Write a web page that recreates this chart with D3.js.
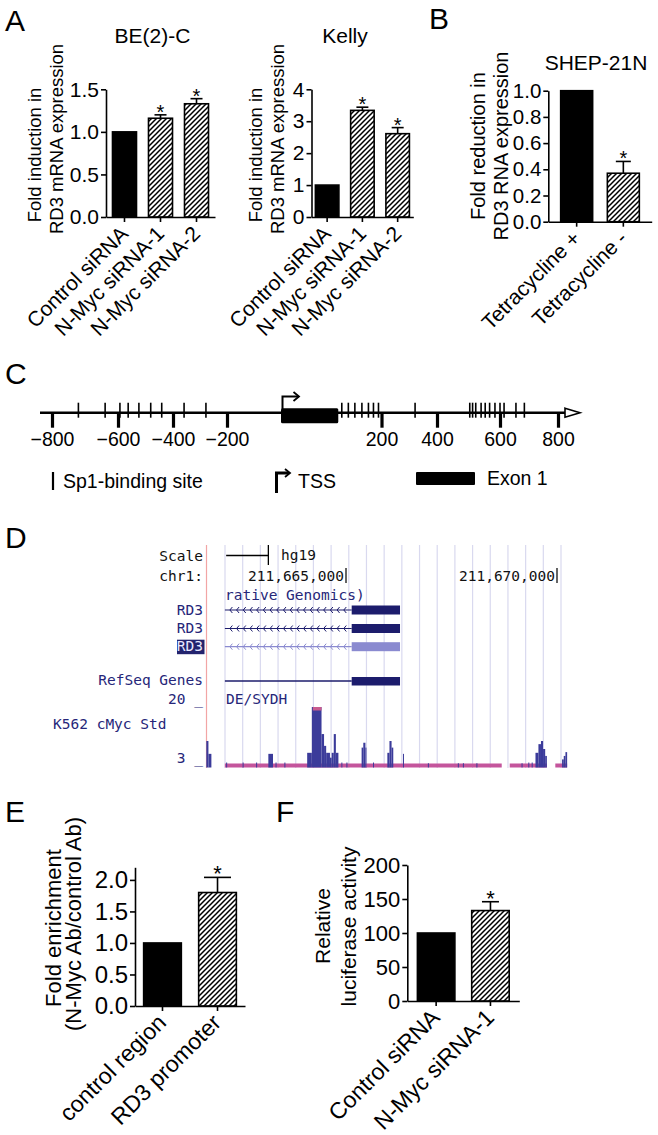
<!DOCTYPE html>
<html><head><meta charset="utf-8">
<script src="https://cdn.jsdelivr.net/npm/d3@7"></script>
<style>
body{margin:0;background:#fff;}
svg{display:block;font-family:"Liberation Sans",Arial,Helvetica,sans-serif;}
</style></head><body>
<script>
// ================= DATA =================
// Panel A – BE(2)-C
const beCategories = ["Control siRNA","N-Myc siRNA-1","N-Myc siRNA-2"];
const beValues = [1.0, 1.16, 1.33];
const beErrors = [0, 0.04, 0.06];
const beSignificant = [false, true, true];
const beTicks = [0, 0.5, 1.0, 1.5];
// Panel A – Kelly
const kellyCategories = ["Control siRNA","N-Myc siRNA-1","N-Myc siRNA-2"];
const kellyValues = [1.0, 3.34, 2.61];
const kellyErrors = [0, 0.10, 0.19];
const kellySignificant = [false, true, true];
const kellyTicks = [0, 1, 2, 3, 4];
// Panel B – SHEP-21N
const shepCategories = ["Tetracycline +","Tetracycline -"];
const shepValues = [1.0, 0.37];
const shepErrors = [0, 0.09];
const shepSignificant = [false, true];
const shepTicks = [0, 0.2, 0.4, 0.6, 0.8, 1.0];
// Panel C – promoter map (bp relative to TSS; schematic, not to scale)
const promoterTicks = [-800, -600, -400, -200, 200, 400, 600, 800];
const promoterBreaks = [-800, -600, -400, -200, 0, 200, 400, 600, 800];
const sp1Sites = [-720, -639, -593, -563, -524, -481, -441, -359, -278,
                  121, 134, 147, 161, 174, 184, 194, 321,
                  504, 513, 523, 540, 553, 567, 584, 600, 614, 655, 684];
const exon1 = [0, 114];
const tssPosition = 0;
// Panel D – UCSC browser (kb relative to chr1:211,660,000)
const coordinateLabels = [[5, "211,665,000"], [10, "211,670,000"]];
const transcripts = ["RD3", "RD3", "RD3"];
const transcriptSpan = [2.13, 6.28];
const codingExon = [5.135, 6.28];
const cMycSignal = [
  [1.69,1.74,10.2],[1.74,1.81,6.5],
  [2.16,2.18,4.0],[2.55,2.57,4.0],[2.87,2.89,4.0],
  [3.16,3.27,6.5],[3.33,3.35,4.0],[3.54,3.56,4.0],
  [4.08,4.19,6.8],[4.19,4.42,22],[4.42,4.48,12.2],[4.48,4.53,8.8],[4.53,4.62,6.8],
  [4.62,4.66,5.4],[4.66,4.71,6.8],[4.71,4.76,12.2],[4.76,4.82,6.8],
  [4.89,4.91,4.0],[5.01,5.03,4.0],
  [5.37,5.41,8.3],[5.41,5.46,9.7],[5.46,5.47,8.3],
  [5.64,5.66,4.0],
  [5.98,6.03,6.8],[6.03,6.08,10.2],[6.08,6.12,8.3],
  [6.35,6.37,6.5],
  [6.94,6.96,3.8],[7.65,7.67,3.8],[7.77,7.79,3.8],[8.09,8.11,3.8],
  [9.16,9.18,3.8],[9.32,9.34,4.0],[9.40,9.42,4.0],
  [9.49,9.56,6.8],[9.56,9.62,9.3],[9.62,9.67,10.2],[9.67,9.72,7.9],[9.72,9.76,5.9],
  [10.12,10.16,4.9],[10.16,10.20,5.9],[10.20,10.24,7.0]
];
const signalCoverage = [[2.13,8.69],[8.88,9.76],[9.96,10.24]];
const signalRange = [3, 20];
// Panel E – ChIP
const chipCategories = ["control region","RD3 promoter"];
const chipValues = [1.0, 1.80];
const chipErrors = [0, 0.24];
const chipSignificant = [false, true];
const chipTicks = [0, 0.5, 1.0, 1.5, 2.0];
// Panel F – luciferase
const lucCategories = ["Control siRNA","N-Myc siRNA-1"];
const lucValues = [100, 133];
const lucErrors = [0, 13];
const lucSignificant = [false, true];
const lucTicks = [0, 50, 100, 150, 200];

// ================= DRAWING =================
const FONT = '"Liberation Sans",Arial,sans-serif';
const MONO = '"DejaVu Sans Mono","Liberation Mono",monospace';
const svg = d3.select("body").append("svg").attr("width",658).attr("height",1135);
svg.append("rect").attr("width",658).attr("height",1135).attr("fill","#fff");
const defs = svg.append("defs");
const pat = defs.append("pattern").attr("id","hatch").attr("patternUnits","userSpaceOnUse")
  .attr("width",5).attr("height",5);
pat.append("rect").attr("width",5).attr("height",5).attr("fill","#fff");
pat.append("path").attr("d","M-1,6 L6,-1 M-1,1 L1,-1 M4,6 L6,4").attr("stroke","#000").attr("stroke-width",1.5);

function letter(t,x,y,size){
  svg.append("text").attr("x",x).attr("y",y).attr("font-size",size).attr("fill","#000").text(t);
}

function barPanel(o){
  const g = svg.append("g");
  const x = d3.scaleBand().domain(o.cats).range([o.x0,o.x1]).paddingInner(o.pi).paddingOuter(o.po);
  const y = d3.scaleLinear().domain(o.domain).range([o.y0,o.y1]);
  const rows = o.cats.map((c,i)=>({c, v:o.vals[i], e:o.errs[i], s:o.sig[i], solid:i===0}));
  const cx = d => x(d.c) + x.bandwidth()/2;
  g.selectAll(".bar").data(rows).join("rect")
    .attr("x",d=>x(d.c)).attr("y",d=>y(d.v)).attr("width",x.bandwidth()).attr("height",d=>y(0)-y(d.v))
    .attr("fill",d=>d.solid?"#000":"url(#hatch)").attr("stroke","#000").attr("stroke-width",1.6);
  const eb = rows.filter(d=>d.e>0);
  g.selectAll(".ev").data(eb).join("line")
    .attr("x1",cx).attr("x2",cx).attr("y1",d=>y(d.v)).attr("y2",d=>y(d.v+d.e))
    .attr("stroke","#000").attr("stroke-width",1.6);
  g.selectAll(".ec").data(eb).join("line")
    .attr("x1",d=>cx(d)-o.cap/2).attr("x2",d=>cx(d)+o.cap/2).attr("y1",d=>y(d.v+d.e)).attr("y2",d=>y(d.v+d.e))
    .attr("stroke","#000").attr("stroke-width",1.6);
  g.selectAll(".star").data(rows.filter(d=>d.s)).join("text")
    .attr("x",cx).attr("y",d=>y(d.v+d.e)+o.starDy).attr("text-anchor","middle")
    .attr("font-size",o.starSize).text("*");
  const ya = g.append("g").attr("transform",`translate(${o.x0},0)`)
    .call(d3.axisLeft(y).tickValues(o.ticks).tickFormat(d3.format(o.fmt)).tickSize(5).tickSizeOuter(0).tickPadding(2));
  ya.attr("font-family",FONT).attr("font-size",o.tickSize);
  ya.selectAll("path,line").attr("stroke","#000").attr("stroke-width",1.6);
  ya.selectAll("text").attr("fill","#000");
  const xa = g.append("g").attr("transform",`translate(0,${o.y0})`)
    .call(d3.axisBottom(x).tickSize(5).tickSizeOuter(0));
  xa.attr("font-family",FONT).attr("font-size",o.labSize);
  xa.selectAll("path,line").attr("stroke","#000").attr("stroke-width",1.6);
  xa.selectAll("text").attr("fill","#000").attr("y",0).attr("dy",null).attr("text-anchor","end")
    .attr("transform",`translate(${o.lx},${o.ly}) rotate(-45)`);
  o.yTitle.forEach(t=>{
    g.append("text").attr("transform",`translate(${t[1]},${t[2]}) rotate(-90)`)
      .attr("text-anchor","middle").attr("font-size",o.yTitleSize).attr("fill","#000").text(t[0]);
  });
  if(o.title) g.append("text").attr("x",o.title[1]).attr("y",o.title[2]).attr("text-anchor","middle")
      .attr("font-size",o.titleSize).attr("fill","#000").text(o.title[0]);
}

// ---- Panel A ----
letter("A",5,31,30);
barPanel({cats:beCategories, vals:beValues, errs:beErrors, sig:beSignificant, ticks:beTicks, fmt:".1f",
  domain:[0,1.5], x0:106, x1:215, y0:217, y1:89.3, pi:0.333, po:0.18, cap:12,
  starDy:4, starSize:20, tickSize:21, labSize:21, lx:5, ly:18,
  yTitle:[["Fold induction in",41,155],["RD3 mRNA expression",63,139]], yTitleSize:18.5,
  title:["BE(2)-C",152.5,43], titleSize:21});
barPanel({cats:kellyCategories, vals:kellyValues, errs:kellyErrors, sig:kellySignificant, ticks:kellyTicks, fmt:"d",
  domain:[0,4], x0:311.5, x1:413.3, y0:217, y1:89.3, pi:0.333, po:0.11, cap:12,
  starDy:4, starSize:20, tickSize:21, labSize:21, lx:5, ly:18,
  yTitle:[["Fold induction in",262,155],["RD3 mRNA expression",284,139]], yTitleSize:18.5,
  title:["Kelly",345,43], titleSize:21});
// ---- Panel B ----
letter("B",429,29,30);
barPanel({cats:shepCategories, vals:shepValues, errs:shepErrors, sig:shepSignificant, ticks:shepTicks, fmt:".1f",
  domain:[0,1], x0:548.3, x1:651.7, y0:221.7, y1:90.7, pi:0.315, po:0.265, cap:15,
  starDy:4, starSize:20, tickSize:20.5, labSize:21, lx:5, ly:18,
  yTitle:[["Fold reduction in",485,146],["RD3 RNA expression",508,146]], yTitleSize:20,
  title:["SHEP-21N",596,70], titleSize:21});

// ---- Panel C ----
letter("C",5,384,30);
const cY = 412.7;
const xC = d3.scaleLinear().domain(promoterBreaks).range([52,118,173,227,281,381.5,437,500,558]);
const gC = svg.append("g");
gC.append("line").attr("x1",40).attr("x2",566).attr("y1",cY).attr("y2",cY).attr("stroke","#000").attr("stroke-width",2.6);
gC.append("path").attr("d",`M565,${cY-4.5} L580,${cY} L565,${cY+4.5} Z`).attr("fill","#fff").attr("stroke","#000").attr("stroke-width",1.6);
const cAxis = gC.append("g").attr("transform",`translate(0,${cY})`)
  .call(d3.axisBottom(xC).tickValues(promoterTicks).tickFormat(d3.format("d")).tickSize(15).tickPadding(4));
cAxis.select(".domain").remove();
cAxis.attr("font-family",FONT).attr("font-size",19.5);
cAxis.selectAll("line").attr("stroke","#000").attr("stroke-width",3.2);
cAxis.selectAll("text").attr("fill","#000");
gC.selectAll(".sp1").data(sp1Sites).join("line")
  .attr("x1",d=>xC(d)).attr("x2",d=>xC(d)).attr("y1",cY-10).attr("y2",cY+5)
  .attr("stroke","#000").attr("stroke-width",1.6);
gC.append("rect").attr("x",xC(exon1[0])).attr("width",xC(exon1[1])-xC(exon1[0]))
  .attr("y",408.3).attr("height",15).attr("rx",1.5).attr("fill","#000");
const tx = xC(tssPosition)+1.5;
gC.append("path").attr("d",`M${tx},409 V396.5 H${tx+16}`).attr("fill","none").attr("stroke","#000").attr("stroke-width",2);
gC.append("path").attr("d",`M${tx+11},392 L${tx+16.5},396.5 L${tx+11},401`).attr("fill","none").attr("stroke","#000").attr("stroke-width",1.8);
// legend
gC.append("line").attr("x1",53).attr("x2",53).attr("y1",472).attr("y2",490).attr("stroke","#000").attr("stroke-width",2.2);
gC.append("text").attr("x",63).attr("y",488).attr("font-size",19.5).text("Sp1-binding site");
gC.append("path").attr("d","M276.5,493 V473 H289").attr("fill","none").attr("stroke","#000").attr("stroke-width",3);
gC.append("path").attr("d","M285,469 L290,473 L285,477").attr("fill","none").attr("stroke","#000").attr("stroke-width",1.8);
gC.append("text").attr("x",298).attr("y",488).attr("font-size",19.5).text("TSS");
gC.append("rect").attr("x",416).attr("y",472).attr("width",59).attr("height",13).attr("rx",1).attr("fill","#000");
gC.append("text").attr("x",487).attr("y",485).attr("font-size",19.5).text("Exon 1");

// ---- Panel D ----
letter("D",5,548,30);
const NAVY = "#262679";
const gD = svg.append("g").attr("font-family",MONO).attr("font-size",14.5);
const xD = d3.scaleLinear().domain([5,10]).range([346,557]);
const gridIdx = d3.range(20);
const gridX = d3.scaleLinear().domain([0,19]).range([225,561]);
gD.selectAll(".grid").data(gridIdx).join("line")
  .attr("x1",d=>gridX(d)).attr("x2",d=>gridX(d)).attr("y1",545).attr("y2",768)
  .attr("stroke","#d9d9ef").attr("stroke-width",1.2);
gD.append("line").attr("x1",206.5).attr("x2",206.5).attr("y1",545).attr("y2",768).attr("stroke","#f2a5a5").attr("stroke-width",1.2);
// scale bar
gD.append("line").attr("x1",xD(2.16)).attr("x2",xD(3.16)).attr("y1",555.5).attr("y2",555.5).attr("stroke","#000").attr("stroke-width",1.3);
gD.append("line").attr("x1",xD(3.16)).attr("x2",xD(3.16)).attr("y1",545).attr("y2",565).attr("stroke","#000").attr("stroke-width",1.3);
gD.append("text").attr("x",203).attr("y",561).attr("text-anchor","end").attr("fill","#111").text("Scale");
gD.append("text").attr("x",281).attr("y",560).attr("fill","#111").text("hg19");
gD.append("text").attr("x",203).attr("y",581).attr("text-anchor","end").attr("fill","#111").text("chr1:");
coordinateLabels.forEach(c=>{
  gD.append("text").attr("x",xD(c[0])-2).attr("y",581).attr("text-anchor","end").attr("fill","#111").text(c[1]);
  gD.append("line").attr("x1",xD(c[0])).attr("x2",xD(c[0])).attr("y1",568).attr("y2",583).attr("stroke","#111").attr("stroke-width",1.3);
});
gD.append("text").attr("x",225).attr("y",600).attr("fill",NAVY).text("rative Genomics)");
// transcripts
const rowY = [610, 628.5, 646.7];
transcripts.forEach((t,i)=>{
  const yy = rowY[i];
  const col = i===2 ? "#8a8ad0" : "#1c1c6c";
  if(i===2){
    gD.append("rect").attr("x",177).attr("y",yy-7).attr("width",27.5).attr("height",14.5).attr("fill","#23236e");
    gD.append("text").attr("x",203).attr("y",yy+4.5).attr("text-anchor","end").attr("fill","#e8e8ff").text(t);
  } else {
    gD.append("text").attr("x",203).attr("y",yy+4.5).attr("text-anchor","end").attr("fill",NAVY).text(t);
  }
  gD.append("line").attr("x1",xD(transcriptSpan[0])).attr("x2",xD(codingExon[0])).attr("y1",yy).attr("y2",yy).attr("stroke",col).attr("stroke-width",1.2);
  const chevrons = d3.range(xD(transcriptSpan[0])+5, xD(codingExon[0])-2, 6.7);
  gD.selectAll(null).data(chevrons).join("path")
    .attr("d",d=>`M${d+2.5},${yy-3} L${d},${yy} L${d+2.5},${yy+3}`).attr("fill","none").attr("stroke",col).attr("stroke-width",1);
  gD.append("rect").attr("x",xD(codingExon[0])).attr("width",xD(codingExon[1])-xD(codingExon[0]))
    .attr("y",yy-4.5).attr("height",9).attr("fill",col);
});
gD.append("text").attr("x",203).attr("y",685).attr("text-anchor","end").attr("fill",NAVY).text("RefSeq Genes");
gD.append("line").attr("x1",xD(transcriptSpan[0])).attr("x2",xD(codingExon[0])).attr("y1",681).attr("y2",681).attr("stroke","#1c1c6c").attr("stroke-width",1.4);
gD.append("rect").attr("x",xD(codingExon[0])).attr("width",xD(codingExon[1])-xD(codingExon[0]))
  .attr("y",677).attr("height",8.5).attr("fill","#1c1c6c");
gD.append("text").attr("x",203).attr("y",704).attr("text-anchor","end").attr("fill",NAVY).text("20 _");
gD.append("text").attr("x",226).attr("y",704).attr("fill",NAVY).text("DE/SYDH");
gD.append("text").attr("x",53).attr("y",729).attr("fill",NAVY).text("K562 cMyc Std");
gD.append("text").attr("x",203).attr("y",763).attr("text-anchor","end").attr("fill",NAVY).text("3 _");
// signal
const yS = d3.scaleLinear().domain(signalRange).range([766,707]).clamp(true);
gD.selectAll(".cov").data(signalCoverage).join("rect")
  .attr("x",d=>xD(d[0])).attr("width",d=>xD(d[1])-xD(d[0])).attr("y",763.5).attr("height",4)
  .attr("fill","#c4559c");
gD.selectAll(".sig").data(cMycSignal).join("rect")
  .attr("x",d=>xD(d[0])).attr("width",d=>Math.max(1,xD(d[1])-xD(d[0])))
  .attr("y",d=>yS(d[2])).attr("height",d=>767.5-yS(d[2])).attr("fill","#3b3b9a");
gD.selectAll(".clip").data(cMycSignal.filter(d=>d[2]>signalRange[1])).join("rect")
  .attr("x",d=>xD(d[0])+1).attr("width",d=>xD(d[1])-xD(d[0])-1)
  .attr("y",yS(signalRange[1])).attr("height",3.5).attr("fill","#c85a8e");

// ---- Panel E ----
letter("E",5,822,30);
barPanel({cats:chipCategories, vals:chipValues, errs:chipErrors, sig:chipSignificant, ticks:chipTicks, fmt:".1f",
  domain:[0,2.2], x0:135, x1:245, y0:1006, y1:867.3, pi:0.315, po:0.157, cap:27,
  starDy:4, starSize:22, tickSize:24, labSize:23, lx:5, ly:18,
  yTitle:[["Fold enrichment",61,928],["(N-Myc Ab/control Ab)",81,924]], yTitleSize:22});
// ---- Panel F ----
letter("F",276,822,30);
barPanel({cats:lucCategories, vals:lucValues, errs:lucErrors, sig:lucSignificant, ticks:lucTicks, fmt:"d",
  domain:[0,200], x0:407.3, x1:519.3, y0:1001, y1:865, pi:0.31, po:0.186, cap:17,
  starDy:4, starSize:22, tickSize:22, labSize:23, lx:5, ly:18,
  yTitle:[["Relative",330,926],["luciferase activity",356,926.5]], yTitleSize:21});
</script>
</body></html>
